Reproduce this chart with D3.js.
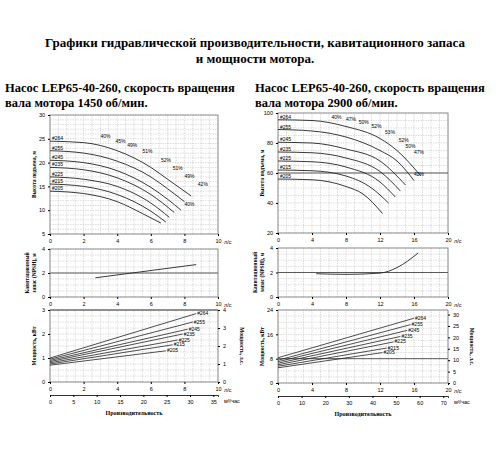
<!DOCTYPE html>
<html><head><meta charset="utf-8">
<script src="https://cdn.jsdelivr.net/npm/d3@7"></script>
<style>body{margin:0;background:#fff}svg{display:block}</style>
</head><body><svg id="c" width="500" height="450"></svg>
<script>
// ----- 数据 -----
const impellers = ["#264", "#255", "#245", "#235", "#225", "#215", "#205"];
// 1450 об/мин: напор [Q л/с, H м]
const headSlow = [
  [[0,24.5],[2,24.2],[4,22.5],[6,19],[7,16.5],[8.4,13]],
  [[0,22.5],[2,22],[4,20.3],[6,17],[7,14.5],[8,11.8]],
  [[0,20.5],[2,20],[4,18.3],[6,14.8],[7,12.3],[7.8,10]],
  [[0,19],[2,18.5],[4,16.8],[6,13.3],[7.4,9.5]],
  [[0,17],[2,16.5],[4,15],[6,11.5],[7.1,8.5]],
  [[0,15.5],[2,15],[4,13.3],[6,9.8],[6.9,7.5]],
  [[0,14],[2,13.5],[4,11.8],[5.5,9.3],[6.6,7.3]]
];
const effSlow = [["40%",3,25.2],["45%",3.9,24.2],["49%",4.6,23.3],["51%",5.5,22],["52%",6.6,20.2],["51%",7.3,18.5],["49%",8,16.8],["42%",8.8,15],["40%",8,10.8]];
const npshSlow = [[2.7,1.6],[8.7,2.7]];
const powerSlow = [
  [[0,1.0],[8.7,2.85]],[[0,0.95],[8.5,2.5]],[[0,0.9],[8.2,2.2]],[[0,0.85],[7.9,2.0]],
  [[0,0.8],[7.6,1.75]],[[0,0.75],[7.3,1.55]],[[0,0.7],[6.9,1.3]]
];
// 2900 об/мин
const headFast = [
  [[0,95.5],[4,95],[8,91],[12,83],[14,75],[16.8,58]],
  [[0,89],[4,88],[8,84],[12,75],[14,68],[16,55]],
  [[0,80.5],[4,80],[8,76],[12,68],[15,52]],
  [[0,74],[4,73.5],[8,70],[12,61],[14.4,48]],
  [[0,68],[4,67.5],[8,64],[12,54],[13.8,44]],
  [[0,62],[4,61.5],[8,58],[11,50],[13,40]],
  [[0,56],[4,55.5],[8,51],[10,46],[12.3,33]]
];
const effFast = [["40%",6.3,96],["47%",8,95],["50%",9.5,93],["52%",11,90],["53%",12.6,86],["52%",14.2,81],["50%",15,77],["47%",16,73],["42%",16,58]];
const npshFast = [[4.5,1.9],[8,1.85],[12,1.95],[14,2.4],[16.5,3.6]];
const powerFast = [
  [[0,8.3],[16,21.3]],[[0,7.5],[15.6,19.2]],[[0,7],[15.2,17.3]],[[0,6.5],[14.4,15.3]],
  [[0,6],[13.6,13.5]],[[0,5.5],[12.8,11.5]],[[0,5],[12.3,10]]
];

const svg = d3.select("#c");
const serif = "Liberation Serif, DejaVu Serif, serif";
const sans = "Liberation Sans, Arial, sans-serif";

svg.append("text").attr("x", 255).attr("y", 47).attr("text-anchor", "middle")
  .attr("font-family", serif).attr("font-weight", "bold").attr("font-size", 13)
  .text("Графики гидравлической производительности, кавитационного запаса");
svg.append("text").attr("x", 255).attr("y", 63).attr("text-anchor", "middle")
  .attr("font-family", serif).attr("font-weight", "bold").attr("font-size", 13)
  .text("и мощности мотора.");

function panel(cfg) {
  const g = svg.append("g");
  const x = d3.scaleLinear().domain([0, cfg.qMax]).range([cfg.x0, cfg.x1]);
  [0, 1].forEach(k => g.append("text").attr("x", cfg.tx).attr("y", 92 + k * 15)
    .attr("font-family", serif).attr("font-weight", "bold").attr("font-size", 12.5)
    .text(cfg.title[k]));

  function box(y, yTicks, minorStep, label, bold) {
    // minor grid
    d3.range(0, cfg.qMax + 1e-9, cfg.qMax / 20).forEach(v =>
      g.append("line").attr("x1", x(v)).attr("x2", x(v)).attr("y1", y.range()[0]).attr("y2", y.range()[1])
        .attr("stroke", "#bbb").attr("stroke-width", 0.5).attr("stroke-dasharray", "1.5,1"));
    const d = y.domain();
    d3.range(d[0], d[1] + 1e-9, minorStep).forEach(v =>
      g.append("line").attr("x1", cfg.x0).attr("x2", cfg.x1).attr("y1", y(v)).attr("y2", y(v))
        .attr("stroke", "#bbb").attr("stroke-width", 0.5).attr("stroke-dasharray", "1.5,1"));
    if (bold !== undefined)
      g.append("line").attr("x1", cfg.x0).attr("x2", cfg.x1).attr("y1", y(bold)).attr("y2", y(bold)).attr("stroke", "#333").attr("stroke-width", 0.8);
    g.append("rect").attr("x", cfg.x0).attr("y", y.range()[1]).attr("width", cfg.x1 - cfg.x0)
      .attr("height", y.range()[0] - y.range()[1]).attr("fill", "none").attr("stroke", "#666").attr("stroke-width", 0.7);
    const ya = g.append("g").attr("transform", `translate(${cfg.x0},0)`)
      .call(d3.axisLeft(y).tickValues(yTicks).tickSize(2).tickFormat(d3.format("d")));
    const xa = g.append("g").attr("transform", `translate(0,${y.range()[0]})`)
      .call(d3.axisBottom(x).tickValues(cfg.qTicks).tickSize(2).tickFormat(d3.format("d")));
    [ya, xa].forEach(a => { a.select(".domain").remove(); a.selectAll("text").attr("font-size", 5.5).attr("font-family", sans); });
    g.append("text").attr("x", cfg.x1 + 6).attr("y", y.range()[0] + 10).attr("font-size", 5.5)
      .attr("font-family", sans).text("л/с");
    const cy = (y.range()[0] + y.range()[1]) / 2;
    label.forEach((t, i) => g.append("text").attr("transform", `translate(${cfg.x0 - 14 - (label.length - 1 - i) * 7},${cy}) rotate(-90)`)
      .attr("text-anchor", "middle").attr("font-size", 5.5).attr("font-weight", "bold").attr("font-family", serif).text(t));
  }
  const line = d3.line().curve(d3.curveMonotoneX);

  // напор
  const yH = d3.scaleLinear().domain(cfg.hDom).range([cfg.hY[1], cfg.hY[0]]);
  box(yH, cfg.hTicks, cfg.hMinor, ["Высота подъема, м"], cfg.hBold);
  const lh = line.x(d => x(d[0])).y(d => yH(d[1]));
  cfg.head.forEach((c, i) => {
    g.append("path").attr("d", lh(c)).attr("fill", "none").attr("stroke", "#222").attr("stroke-width", 0.9);
    g.append("text").attr("x", x(0) + 2).attr("y", yH(c[0][1]) - 1).attr("font-size", 5).attr("font-family", sans).text(impellers[i]);
  });
  cfg.eff.forEach(e => g.append("text").attr("x", x(e[1])).attr("y", yH(e[2])).attr("font-size", 5)
    .attr("font-family", sans).text(e[0]));

  // NPSH
  const yN = d3.scaleLinear().domain([0, 4]).range([cfg.nY[1], cfg.nY[0]]);
  box(yN, [0, 2, 4], 0.5, ["Кавитационный", "запас (NPSH), м"], 2);
  const ln = d3.line().curve(d3.curveMonotoneX).x(d => x(d[0])).y(d => yN(d[1]));
  g.append("path").attr("d", ln(cfg.npsh)).attr("fill", "none").attr("stroke", "#222").attr("stroke-width", 0.9);

  // мощность
  const yP = d3.scaleLinear().domain([0, cfg.pMax]).range([cfg.pY[1], cfg.pY[0]]);
  box(yP, cfg.pTicks, cfg.pMax / 12, ["Мощность, кВт"], cfg.pBold);
  const yHp = d3.scaleLinear().domain([0, cfg.hpMax]).range([cfg.pY[1], cfg.pY[0]]);
  const ra = g.append("g").attr("transform", `translate(${cfg.x1},0)`)
    .call(d3.axisRight(yHp).tickValues(cfg.hpTicks).tickSize(2).tickFormat(d3.format("d")));
  ra.select(".domain").remove(); ra.selectAll("text").attr("font-size", 5.5).attr("font-family", sans);
  g.append("text").attr("transform", `translate(${cfg.x1 + 22},${(cfg.pY[0] + cfg.pY[1]) / 2}) rotate(90)`)
    .attr("text-anchor", "middle").attr("font-size", 5.5).attr("font-weight", "bold").attr("font-family", serif).text("Мощность, л.с.");
  const lp = d3.line().x(d => x(d[0])).y(d => yP(d[1]));
  cfg.power.forEach((c, i) => {
    g.append("path").attr("d", lp(c)).attr("fill", "none").attr("stroke", "#222").attr("stroke-width", 0.8);
    const e = c[c.length - 1];
    g.append("text").attr("x", x(e[0]) + 1).attr("y", yP(e[1]) + 1.5).attr("font-size", 5).attr("font-family", sans).text(impellers[i]);
  });

  // м3/час ось
  const xm = d3.scaleLinear().domain([0, cfg.qMax * 3.6]).range([cfg.x0, cfg.x1]);
  const ma = g.append("g").attr("transform", `translate(0,${cfg.pY[1] + 13})`)
    .call(d3.axisBottom(xm).tickValues(cfg.mTicks).tickSize(2));
  ma.select(".domain").attr("stroke", "#333");
  ma.selectAll("text").attr("font-size", 5.5).attr("font-family", sans);
  g.append("text").attr("x", cfg.x1 + 6).attr("y", cfg.pY[1] + 21).attr("font-size", 5.5).attr("font-family", sans).text("м³/час");
  g.append("text").attr("x", (cfg.x0 + cfg.x1) / 2).attr("y", cfg.pY[1] + 33).attr("text-anchor", "middle")
    .attr("font-size", 6).attr("font-weight", "bold").attr("font-family", serif).text("Производительность");
}

panel({
  title: ["Насос LEP65-40-260, скорость вращения", "вала мотора 1450 об/мин."], tx: 5,
  x0: 50, x1: 218, qMax: 10, qTicks: [0, 2, 4, 6, 8, 10],
  hDom: [5, 30], hY: [115, 234], hTicks: [5, 10, 15, 20, 25, 30], hMinor: 1, head: headSlow, eff: effSlow,
  nY: [249, 297], npsh: npshSlow,
  pMax: 3, pY: [310, 382], pTicks: [0, 1, 2, 3], hpMax: 4, hpTicks: [0, 1, 2, 3, 4], power: powerSlow, pBold: 3,
  mTicks: [0, 5, 10, 15, 20, 25, 30, 35]
});
panel({
  title: ["Насос LEP65-40-260, скорость вращения", "вала мотора 2900 об/мин."], tx: 255,
  x0: 278, x1: 448, qMax: 20, qTicks: [0, 4, 8, 12, 16, 20],
  hDom: [20, 100], hY: [113, 233], hTicks: [20, 40, 60, 80, 100], hMinor: 5, head: headFast, eff: effFast, hBold: 60,
  nY: [248, 297], npsh: npshFast,
  pMax: 24, pY: [310, 383], pTicks: [0, 8, 16, 24], hpMax: 32, hpTicks: [0, 5, 10, 15, 20, 25, 30], power: powerFast, pBold: 8,
  mTicks: [0, 10, 20, 30, 40, 50, 60, 70]
});
</script></body></html>
